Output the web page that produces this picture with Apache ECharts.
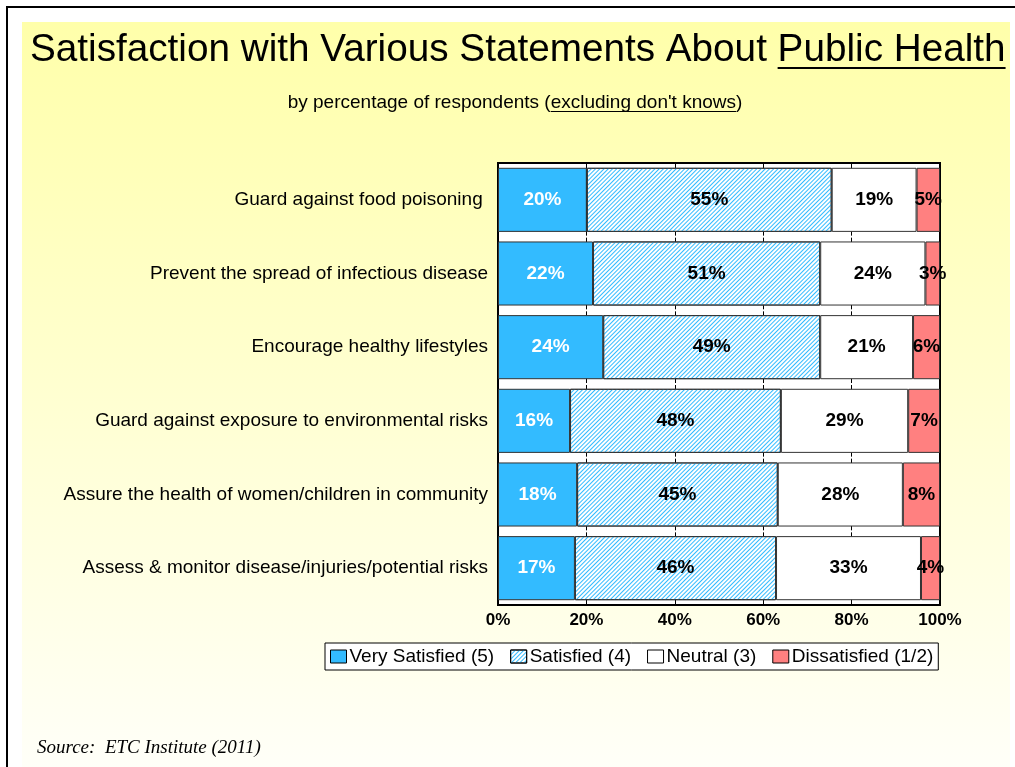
<!DOCTYPE html>
<html lang="en">
<head>
  <meta charset="UTF-8">
  <title>Satisfaction with Various Statements About Public Health</title>
  <script src="https://cdn.jsdelivr.net/npm/echarts@6/dist/echarts.min.js"></script>
  <style>
    html, body { margin: 0; padding: 0; background: #fff; }
    #frame {
      position: absolute; left: 6px; top: 6px; width: 1009px; height: 761px;
      border-top: 2px solid #000; border-left: 2px solid #000;
    }
    #bg {
      position: absolute; left: 22px; top: 22px; width: 988px; height: 745px;
      background: linear-gradient(#ffffaa, #fffff8);
    }
    #main { position: absolute; left: 0; top: 0; width: 1015px; height: 767px; }
  </style>
</head>
<body>
<div id="frame"></div>
<div id="bg"></div>
<div id="main"></div>

<script>
  var categories = [
    'Guard against food poisoning ',
    'Prevent the spread of infectious disease',
    'Encourage healthy lifestyles',
    'Guard against exposure to environmental risks',
    'Assure the health of women/children in community',
    'Assess & monitor disease/injuries/potential risks'
  ];
  var verySatisfied = [20.1, 21.5, 23.8, 16.3, 17.9, 17.4];
  var satisfied = [55.4, 51.4, 49.1, 47.7, 45.4, 45.5];
  var neutral = [19.2, 23.8, 21.0, 28.8, 28.3, 32.8];
  var dissatisfied = [5.3, 3.3, 6.1, 7.2, 8.4, 4.3];
  var seriesNames = ['Very Satisfied (5)', 'Satisfied (4)', 'Neutral (3)', 'Dissatisfied (1/2)'];

  var sans = 'Arial, "Liberation Sans", sans-serif';
  var serif = '"Times New Roman", "Liberation Serif", serif';

  function textWidth(s, font) {
    var ctx = document.createElement('canvas').getContext('2d');
    ctx.font = font;
    return ctx.measureText(s).width;
  }

  // light blue diagonal stripes for "Satisfied"
  var hatch = {
    symbol: 'rect',
    symbolSize: 1,
    color: '#33bbff',
    dashArrayX: [1, 0],
    dashArrayY: [1, 2],
    rotation: -Math.PI / 4
  };

  function pct(p) { return Math.round(p.value) + '%'; }

  function barSeries(name, data, color, labelColor, decal) {
    var style = { color: color, borderColor: '#333', borderWidth: 1 };
    if (decal) style.decal = decal;
    return {
      name: name,
      type: 'bar',
      stack: 'all',
      barCategoryGap: '13%',
      data: data,
      itemStyle: style,
      label: {
        show: true, position: 'inside', formatter: pct,
        color: labelColor, fontWeight: 'bold', fontSize: 19, fontFamily: sans
      }
    };
  }

  // title / subtitle with underlined parts
  var titleFont = '38.7px ' + sans;
  var titleX = 30;
  var titlePre = 'Satisfaction with Various Statements About ';
  var titleUl = 'Public Health';
  var tPreW = textWidth(titlePre, titleFont);
  var tUlW = textWidth(titleUl, titleFont);

  var subFont = '19px ' + sans;
  var subText = "by percentage of respondents (excluding don't knows)";
  var subPre = 'by percentage of respondents (';
  var subUl = "excluding don't knows";
  var subX = 515 - textWidth(subText, subFont) / 2;
  var sPreW = textWidth(subPre, subFont);
  var sUlW = textWidth(subUl, subFont);

  var period = 442 / categories.length;

  var chart = echarts.init(document.getElementById('main'));
  chart.setOption({
    backgroundColor: 'transparent',
    animation: false,
    graphic: [
      { type: 'text', x: titleX, y: 50, style: { text: titlePre + titleUl, font: titleFont, fill: '#000', verticalAlign: 'middle' } },
      { type: 'line', shape: { x1: titleX + tPreW, y1: 68, x2: titleX + tPreW + tUlW, y2: 68 }, style: { stroke: '#000', lineWidth: 2 } },
      { type: 'text', x: subX, y: 103, style: { text: subText, font: subFont, fill: '#000', verticalAlign: 'middle' } },
      { type: 'line', shape: { x1: subX + sPreW, y1: 111.5, x2: subX + sPreW + sUlW, y2: 111.5 }, style: { stroke: '#000', lineWidth: 1 } },
      { type: 'text', x: 37, y: 748, style: { text: 'Source:  ETC Institute (2011)', font: 'italic 19px ' + serif, fill: '#000', verticalAlign: 'middle' } }
    ],
    grid: {
      show: true, left: 498, right: 75, top: 163, bottom: 162,
      backgroundColor: '#fff', borderColor: '#000', borderWidth: 2
    },
    legend: {
      data: seriesNames,
      left: 325, top: 643,
      backgroundColor: '#fff', borderColor: '#000', borderWidth: 1,
      padding: [4, 5, 4, 5], itemGap: 16,
      itemWidth: 16, itemHeight: 13, icon: 'rect',
      itemStyle: { borderColor: '#000', borderWidth: 1 },
      textStyle: { color: '#000', fontSize: 19, fontFamily: sans, padding: [0, 0, 0, -2] }
    },
    xAxis: {
      type: 'value', min: 0, max: 100, interval: 20,
      axisLine: { show: false },
      axisTick: { show: true, inside: true, length: 4, lineStyle: { color: '#000' } },
      splitLine: { show: true, lineStyle: { color: '#000', width: 1, type: [period - 2, 2], dashOffset: period - 1 } },
      axisLabel: { formatter: '{value}%', color: '#000', fontWeight: 'bold', fontSize: 17, fontFamily: sans, margin: 7 }
    },
    yAxis: {
      type: 'category', data: categories, inverse: true,
      axisLine: { show: false }, axisTick: { show: false },
      axisLabel: { color: '#000', fontSize: 19, fontFamily: sans, margin: 10 }
    },
    series: [
      barSeries(seriesNames[0], verySatisfied, '#33bbff', '#fff'),
      barSeries(seriesNames[1], satisfied, '#ffffff', '#000', hatch),
      barSeries(seriesNames[2], neutral, '#fff', '#000'),
      barSeries(seriesNames[3], dissatisfied, '#ff8080', '#000')
    ]
  });
</script>
</body>
</html>
